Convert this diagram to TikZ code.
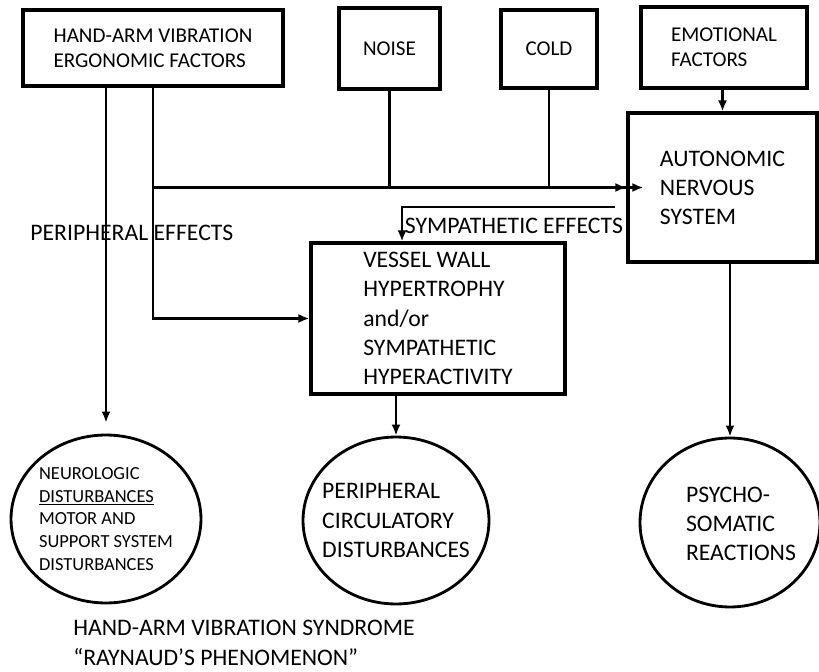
\documentclass[tikz,border=0pt]{standalone}
\usepackage{fontspec}
\setmainfont{Carlito}
\usetikzlibrary{arrows.meta,positioning,shapes.geometric}

\tikzset{
  box/.style={draw, line width=1.8pt, inner sep=0pt, align=left, font=\fontsize{12}{14.2}\selectfont},
  oval/.style={draw, ellipse, line width=1.6pt, inner sep=0pt},
  txt/.style={align=left, inner sep=0pt, font=\fontsize{13.5}{16.5}\selectfont},
  link/.style={line width=1.5pt}
}

\begin{document}
\begin{tikzpicture}[>={Latex[length=2.2mm,width=1.8mm]}, x=0.02cm, y=-0.02cm]
	\useasboundingbox (0,0) rectangle (819,672);

	% Faktoren oben
	\node[box, minimum width=5.2cm, minimum height=1.52cm] (hav) at (153,48) {HAND-ARM VIBRATION\\ERGONOMIC FACTORS};
	\node[box, minimum width=2.02cm, minimum height=1.62cm] (noise) at (389.5,48.5) {NOISE};
	\node[box, minimum width=1.92cm, minimum height=1.56cm] (cold) at (549,49) {COLD};
	\node[box, minimum width=3.32cm, minimum height=1.62cm] (emo) at (724,47.5) {EMOTIONAL\\FACTORS};

	% Mitte
	\node[box, txt, draw, minimum width=3.78cm, minimum height=2.98cm] (ans) at (722.5,187.5) {AUTONOMIC\\NERVOUS\\SYSTEM};
	\node[box, txt, draw, minimum width=5.08cm, minimum height=3.02cm, font=\fontsize{13.5}{16.6}\selectfont] (vessel) at (438,318.5) {VESSEL WALL\\HYPERTROPHY\\and/or\\SYMPATHETIC\\HYPERACTIVITY};

	% Folgen unten
	\node[oval, minimum width=3.8cm, minimum height=3.36cm] (neuro) at (106,519) {};
	\node[txt, font=\fontsize{10.5}{13}\selectfont] (neurotxt) at (neuro) {NEUROLOGIC\\\underline{DISTURBANCES}\\MOTOR AND\\SUPPORT SYSTEM\\DISTURBANCES};
	\node[oval, minimum width=3.72cm, minimum height=3.34cm] (circ) at (396,520.5) {};
	\node[txt, font=\fontsize{13.5}{16.8}\selectfont] (circtxt) at (circ) {PERIPHERAL\\CIRCULATORY\\DISTURBANCES};
	\node[oval, minimum width=3.6cm, minimum height=3.38cm] (psycho) at (730,522.5) {};
	\node[txt, font=\fontsize{13.5}{16.6}\selectfont] (psychotxt) at (741,524) {PSYCHO-\\SOMATIC\\REACTIONS};

	% Beschriftungen
	\node[txt, anchor=west] (periph) at (30,233) {PERIPHERAL EFFECTS};
	\node[txt] (symptxt) at (514,226) {SYMPATHETIC EFFECTS};
	\node[txt, anchor=west, font=\fontsize{13.5}{17}\selectfont] (syndrome) at (73,643) {HAND-ARM VIBRATION SYNDROME\\“RAYNAUD’S PHENOMENON”};

	% Verbindungen
	\coordinate (symp) at (615,207);
	\draw[link, ->, shorten >=2.2mm] (hav.south -| neuro.north) -- (neuro.north);
	\draw[link, ->] (hav.south) |- (vessel.west);
	\draw[link, ->] (hav.south |- ans.west) -- (ans.west);
	\draw[link] (noise.south) -- (noise.south |- ans.west);
	\draw[link] (cold.south) -- (cold.south |- ans.west);
	\draw[link, ->] (cold.south |- ans.west) -- ([xshift=0.34cm]ans.west);
	\draw[link, ->] (emo.south -| ans.north) -- (ans.north);
	\draw[link, ->] (symp) -| ([xshift=-0.72cm]vessel.north);
	\draw[link, ->] (vessel.south -| circ.north) -- (circ.north);
	\draw[link, ->] (ans.south -| psycho.north) -- (psycho.north);
\end{tikzpicture}
\end{document}
